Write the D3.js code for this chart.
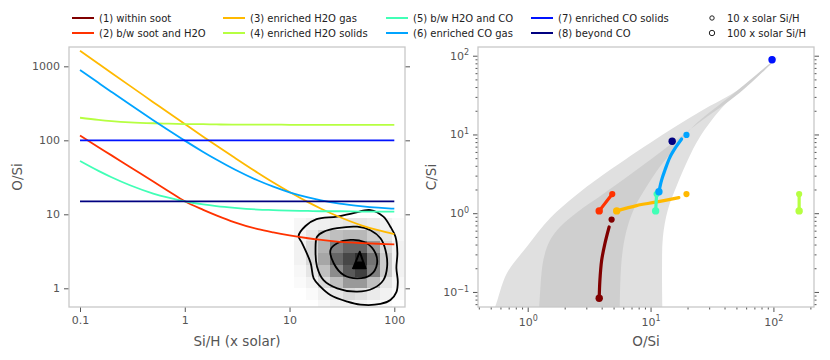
<!DOCTYPE html>
<html><head><meta charset="utf-8">
<script src="https://cdn.jsdelivr.net/npm/d3@7"></script>
<style>
body{margin:0;background:#fff;}
svg{font-family:"DejaVu Sans",sans-serif;}
</style></head><body>
<svg id="c" width="830" height="360"></svg>
<script>
// ---------------- DATA ----------------
const seriesNames = ["(1) within soot","(2) b/w soot and H2O","(3) enriched H2O gas","(4) enriched H2O solids",
                     "(5) b/w H2O and CO","(6) enriched CO gas","(7) enriched CO solids","(8) beyond CO"];
const seriesColors = ["#800000","#ff3200","#ffb900","#b6ff41","#41ffb6","#00a4ff","#0012ff","#000080"];
const sizeLabels = ["10 x solar Si/H","100 x solar Si/H"];

// left panel: O/Si vs Si/H (x solar)
const siH = [0.1,0.15,0.2,0.3,0.5,0.7,1,1.5,2,3,5,7,10,15,20,30,50,70,100];
const oSi2 = [116,80.8,62.6,43.6,27.7,20.5,15,11.5,9.7,7.8,6.3,5.7,5.2,4.75,4.5,4.25,4.08,4.0,3.93];
const oSi3 = [1624,1084,814,544,328,235,166,112,85,58,36.2,26.9,20,14.6,11.9,9.2,7.0,6.1,5.4];
const oSi4 = [202,189,182,175,170,168,166,165,164,163,163,163,162,162,162,162,162,162,162];
const oSi5 = [52.5,38.6,31.7,24.7,19.1,16.8,15.0,13.6,12.9,12.2,11.6,11.4,11.2,11.1,11.0,11.0,10.9,10.9,10.85];
const oSi6 = [891,598,451,304,187,137,99,69.7,55,40.3,28.6,23.6,19.8,16.9,15.4,13.9,12.8,12.3,11.9];
const oSi7 = [100,100,100,100,100,100,100,100,100,100,100,100,100,100,100,100,100,100,100];
const oSi8 = [15,15,15,15,15,15,15,15,15,15,15,15,15,15,15,15,15,15,15];
const leftTicksX = [0.1,1,10,100];
const leftTickLabelsX = ["0.1","1","10","100"];
const leftTicksY = [1,10,100,1000];
const leftTickLabelsY = ["1","10","100","1000"];

// 2D histogram of the sample (Si/H edges, O/Si edges top->bottom, counts rows top->bottom)
const histSiHEdges = [11,14.4,18.8,24.6,32.2,42.2,55.2,72.3,94.6,124];
const histOSiEdges = [8.8,6.1,4.3,3.0,2.06,1.43,1.0,0.69,0.48];
const histCounts = [
  [3,5,6,8,10,10,8,5,2],
  [4,10,20,25,28,28,20,10,3],
  [5,15,30,50,60,60,40,15,5],
  [5,15,35,60,72,82,55,20,5],
  [3,10,25,45,65,75,50,20,5],
  [2,5,15,25,40,40,25,10,3],
  [0,2,6,10,15,12,8,5,2],
  [0,0,3,5,5,5,3,2,0]
];
// density contours [Si/H, O/Si]
const contourOuter = [[12.2,5.1],[14.2,6.95],[18.1,8.6],[28.5,9.3],[40.7,10.4],[59.2,11.4],[78.7,9.3],[91.8,6.8],
  [102.6,4.98],[107,3.0],[104.7,1.88],[108,1.22],[104.7,0.89],[91.8,0.695],[73.7,0.614],[47.5,0.6],[35.5,0.66],
  [24.5,0.81],[19.7,1.05],[17,1.36],[15.9,2.2],[13.2,4.06]];
const contourMid = [[18.3,4.98],[21.1,5.8],[28.5,6.5],[44.2,6.8],[59.2,6.1],[73.8,4.74],[82.3,3.3],[85.4,1.96],
  [78.7,1.29],[63.2,1.0],[44.2,0.9],[28.5,1.0],[21.1,1.29],[18.3,1.96],[17.7,3.3]];
const contourIn = [[24.6,3.3],[28.5,4.06],[38.2,4.5],[51,4.26],[63.6,3.3],[68.5,2.18],[59.2,1.51],[44.2,1.36],
  [32.9,1.51],[26.4,2.18]];
const contourCore = [[46.8,3.12],[53,1.86],[40.5,1.86]];
const contourCoreFill = [[44,2.25],[50.5,2.25],[53,1.86],[40.5,1.86]];

// right panel: C/Si vs O/Si
const bandOuterLeft = [[0.5,0.05],[0.542,0.064],[0.675,0.171],[0.98,0.372],[1.52,0.863],[2.43,1.65],[3.98,2.96],
  [9.9,7.8],[25.2,19.4],[53.2,38],[108,97]];
const bandOuterRight = [[73.1,54],[40.2,23.8],[25.2,9.3],[20.1,4.73],[16.3,2.21],[13.8,1.09],[12.6,0.494],
  [12.4,0.188],[12.5,0.05]];
const bandInnerLeft = [[1.22,0.05],[1.24,0.064],[1.34,0.252],[1.52,0.453],[1.83,0.668],[2.66,1.09],[3.98,1.69],
  [9.9,4.73],[25.2,14.4],[53.2,33.8],[106,93]];
const bandInnerRight = [[48.4,33.8],[22.2,12.6],[16.3,7.0],[11.9,3.89],[9.27,2.16],[7.45,1.2],[6.38,0.607],
  [5.81,0.252],[5.6,0.05]];

const trajO = [[3.82,3.87,4.0,4.25,4.6],[3.82,4.88],[5.3,7.7,11,17],[162,162],[11.0,11.2],
               [11.7,12.3,13.1,14.4,16.1,17.9],[97.5],[15]];
const trajC = [[0.083,0.14,0.252,0.411,0.668],[1.07,1.75],[1.07,1.25,1.38,1.58],[1.07,1.75],[1.07,1.75],
               [1.87,2.63,3.53,5.16,6.93,8.77],[89],[8.2]];
const dot10O = [4.82,4.88,19.6,162,11.2,19.6,97.5,15];
const dot10C = [0.83,1.75,1.75,1.75,1.75,9.86,89,8.2];
const dot100O = [3.82,3.82,5.3,162,11.0,11.7,97.5,15];
const dot100C = [0.083,1.07,1.07,1.07,1.07,1.87,89,8.2];
const rightTicksX = [1,10,100];
const rightTicksY = [0.1,1,10,100];
const rightTickExpX = ["0","1","2"];
const rightTickExpY = ["\u22121","0","1","2"];

// ---------------- DRAW ----------------
const svg = d3.select("#c");
const TXT = "#555";
const L = {x0:69,x1:405,y0:47,y1:307};
const R = {x0:478,x1:814,y0:47,y1:307};

const xL = d3.scaleLog().domain([0.0785,126.5]).range([L.x0,L.x1]);
const yL = d3.scaleLog().domain([0.559,1824]).range([L.y1,L.y0]);
const xR = d3.scaleLog().domain([0.394,214]).range([R.x0,R.x1]);
const yR = d3.scaleLog().domain([0.0644,129]).range([R.y1,R.y0]);

const defs = svg.append("defs");
defs.append("clipPath").attr("id","clipL").append("rect")
  .attr("x",L.x0).attr("y",L.y0).attr("width",L.x1-L.x0).attr("height",L.y1-L.y0);
defs.append("clipPath").attr("id","clipR").append("rect")
  .attr("x",R.x0).attr("y",R.y0).attr("width",R.x1-R.x0).attr("height",R.y1-R.y0);

// ---- left panel ----
const gL = svg.append("g").attr("clip-path","url(#clipL)");
const gray = d3.scaleLinear().domain([0,100]).range(["#ffffff","#000000"]);
histCounts.forEach((row,i)=>{
  row.forEach((v,j)=>{
    if(v<=0) return;
    gL.append("rect")
      .attr("x",xL(histSiHEdges[j])).attr("width",xL(histSiHEdges[j+1])-xL(histSiHEdges[j]))
      .attr("y",yL(histOSiEdges[i])).attr("height",yL(histOSiEdges[i+1])-yL(histOSiEdges[i]))
      .attr("fill",gray(v)).attr("shape-rendering","crispEdges");
  });
});
const cLine = d3.line().x(d=>xL(d[0])).y(d=>yL(d[1])).curve(d3.curveCatmullRomClosed.alpha(0.5));
[contourOuter,contourMid,contourIn].forEach(c=>{
  gL.append("path").attr("d",cLine(c)).attr("fill","none").attr("stroke","#000").attr("stroke-width",1.8);
});
gL.append("path").attr("d",d3.line().x(d=>xL(d[0])).y(d=>yL(d[1]))(contourCore)+"Z")
  .attr("fill","none").attr("stroke","#000").attr("stroke-width",2).attr("stroke-linejoin","round");
gL.append("path").attr("d",d3.line().x(d=>xL(d[0])).y(d=>yL(d[1]))(contourCoreFill)+"Z")
  .attr("fill","#000").attr("stroke","#000").attr("stroke-width",1.5);

const leftSeries = [null,oSi2,oSi3,oSi4,oSi5,oSi6,oSi7,oSi8];
const sLine = d3.line().x(d=>xL(d[0])).y(d=>yL(d[1])).curve(d3.curveMonotoneX);
leftSeries.forEach((vals,k)=>{
  if(!vals) return;
  gL.append("path").attr("d",sLine(siH.map((x,i)=>[x,vals[i]])))
    .attr("fill","none").attr("stroke",seriesColors[k]).attr("stroke-width",1.8);
});

function styleAxis(g){
  g.select(".domain").remove();
  g.selectAll(".tick line").attr("stroke","#555").attr("stroke-width",1);
  g.selectAll(".tick text").attr("fill",TXT).attr("font-size","11px").attr("font-family","DejaVu Sans");
}
svg.append("g").attr("transform",`translate(0,${L.y1})`)
  .call(d3.axisBottom(xL).tickValues(leftTicksX).tickFormat((d,i)=>leftTickLabelsX[i]).tickSize(5).tickPadding(4))
  .call(styleAxis);
svg.append("g").attr("transform",`translate(${L.x0},0)`)
  .call(d3.axisLeft(yL).tickValues(leftTicksY).tickFormat((d,i)=>leftTickLabelsY[i]).tickSize(5).tickPadding(4))
  .call(styleAxis);
svg.append("g").attr("transform",`translate(${L.x1},0)`)
  .call(d3.axisRight(yL).tickValues(leftTicksY).tickFormat("").tickSize(5))
  .call(styleAxis);
svg.append("rect").attr("x",L.x0).attr("y",L.y0).attr("width",L.x1-L.x0).attr("height",L.y1-L.y0)
  .attr("fill","none").attr("stroke","#c8c8c8").attr("stroke-width",1.3);

svg.append("text").attr("x",(L.x0+L.x1)/2).attr("y",346).attr("text-anchor","middle")
  .attr("font-size","13.5px").attr("fill",TXT).text("Si/H (x solar)");
svg.append("text").attr("transform",`translate(22,${(L.y0+L.y1)/2}) rotate(-90)`).attr("text-anchor","middle")
  .attr("font-size","13.5px").attr("fill",TXT).text("O/Si");

// ---- right panel ----
const gR = svg.append("g").attr("clip-path","url(#clipR)");
const bLine = d3.line().x(d=>xR(d[0])).y(d=>yR(d[1])).curve(d3.curveCatmullRom.alpha(0.5));
gR.append("path").attr("d",bLine(bandOuterLeft.concat(bandOuterRight))+"Z").attr("fill","#e0e0e0");
gR.append("path").attr("d",bLine(bandInnerLeft.concat(bandInnerRight))+"Z").attr("fill","#cfcfcf");

const tLine = d3.line().x(d=>xR(d[0])).y(d=>yR(d[1])).curve(d3.curveCatmullRom.alpha(0.5));
seriesColors.forEach((col,k)=>{
  const pts = trajO[k].map((o,i)=>[o,trajC[k][i]]);
  if(pts.length>1){
    gR.append("path").attr("d",tLine(pts)).attr("fill","none").attr("stroke",col)
      .attr("stroke-width",3.2).attr("stroke-linecap","round");
  }
  gR.append("circle").attr("cx",xR(dot100O[k])).attr("cy",yR(dot100C[k])).attr("r",3.7).attr("fill",col);
  gR.append("circle").attr("cx",xR(dot10O[k])).attr("cy",yR(dot10C[k])).attr("r",3.1).attr("fill",col);
});

function minorTicks(domain){
  const out=[];
  for(let e=-3;e<=3;e++) for(let m=2;m<=9;m++){const v=m*Math.pow(10,e); if(v>=domain[0]&&v<=domain[1]) out.push(v);}
  return out;
}
function supLabels(g,exps){
  g.selectAll(".tick text").each(function(d,i){
    const t=d3.select(this); t.text("");
    t.append("tspan").text("10");
    t.append("tspan").attr("dy","-0.55em").attr("font-size","8px").text(exps[i]);
  });
}
// bottom
svg.append("g").attr("transform",`translate(0,${R.y1})`)
  .call(d3.axisBottom(xR).tickValues(minorTicks(xR.domain())).tickFormat("").tickSize(2.5)).call(styleAxis);
svg.append("g").attr("transform",`translate(0,${R.y1})`)
  .call(d3.axisBottom(xR).tickValues(rightTicksX).tickFormat("x").tickSize(5).tickPadding(6))
  .call(styleAxis).call(g=>supLabels(g,rightTickExpX));
// left
svg.append("g").attr("transform",`translate(${R.x0},0)`)
  .call(d3.axisLeft(yR).tickValues(minorTicks(yR.domain())).tickFormat("").tickSize(2.5)).call(styleAxis);
svg.append("g").attr("transform",`translate(${R.x0},0)`)
  .call(d3.axisLeft(yR).tickValues(rightTicksY).tickFormat("x").tickSize(5).tickPadding(4))
  .call(styleAxis).call(g=>supLabels(g,rightTickExpY));
// right
svg.append("g").attr("transform",`translate(${R.x1},0)`)
  .call(d3.axisRight(yR).tickValues(minorTicks(yR.domain())).tickFormat("").tickSize(2.5)).call(styleAxis);
svg.append("g").attr("transform",`translate(${R.x1},0)`)
  .call(d3.axisRight(yR).tickValues(rightTicksY).tickFormat("").tickSize(5)).call(styleAxis);
svg.append("rect").attr("x",R.x0).attr("y",R.y0).attr("width",R.x1-R.x0).attr("height",R.y1-R.y0)
  .attr("fill","none").attr("stroke","#c8c8c8").attr("stroke-width",1.3);

svg.append("text").attr("x",(R.x0+R.x1)/2).attr("y",346).attr("text-anchor","middle")
  .attr("font-size","13.5px").attr("fill",TXT).text("O/Si");
svg.append("text").attr("transform",`translate(436,${(R.y0+R.y1)/2}) rotate(-90)`).attr("text-anchor","middle")
  .attr("font-size","13.5px").attr("fill",TXT).text("C/Si");

// ---- legend ----
const legX = [72,223,386,531];
const legY = [18,33];
seriesNames.forEach((n,k)=>{
  const cx = legX[Math.floor(k/2)], cy = legY[k%2];
  svg.append("line").attr("x1",cx).attr("x2",cx+22).attr("y1",cy).attr("y2",cy)
    .attr("stroke",seriesColors[k]).attr("stroke-width",2);
  svg.append("text").attr("x",cx+27).attr("y",cy+3.6).attr("font-size","10px").attr("fill","#222").text(n);
});
sizeLabels.forEach((n,k)=>{
  const cy = legY[k];
  svg.append("circle").attr("cx",712).attr("cy",cy).attr("r",k===0?2.2:2.7)
    .attr("fill","#fff").attr("stroke","#222").attr("stroke-width",1);
  svg.append("text").attr("x",727).attr("y",cy+3.6).attr("font-size","10px").attr("fill","#222").text(n);
});
</script>
</body></html>
